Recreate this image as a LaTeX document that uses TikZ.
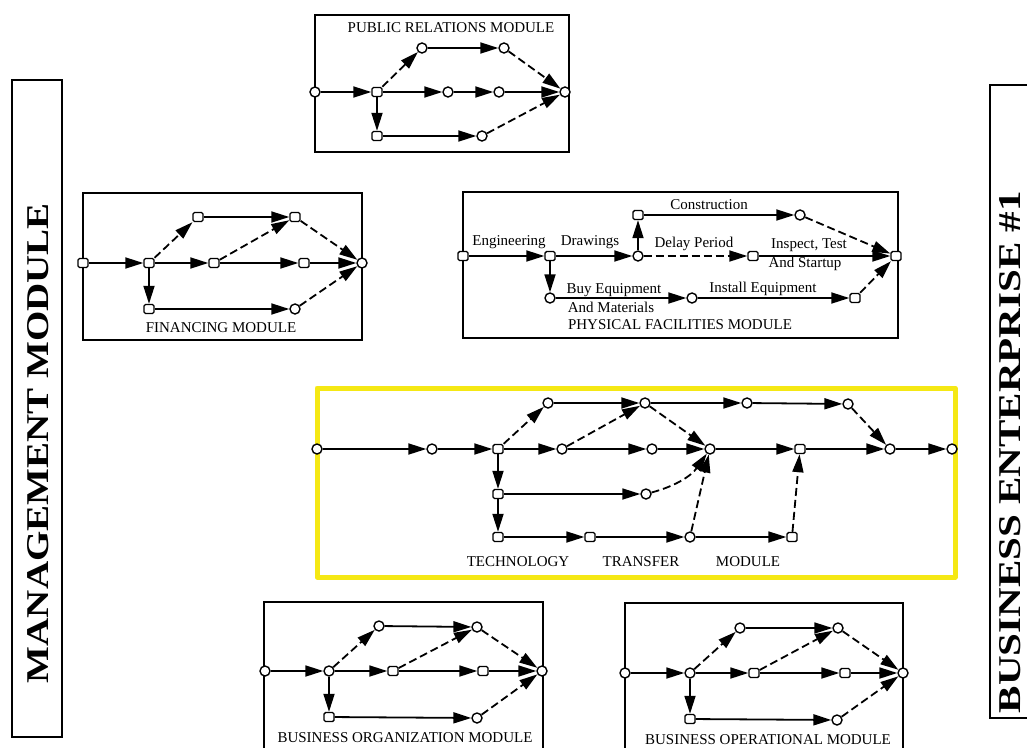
\documentclass[tikz,border=0pt]{standalone}
\usepackage{fontspec}
\setmainfont{Liberation Serif}
\usetikzlibrary{arrows.meta}
\tikzset{
 cn/.style={circle,draw,fill=white,line width=1.4pt,inner sep=0pt,minimum size=10pt},
 sn/.style={rectangle,rounded corners=1.5pt,draw,fill=white,line width=1.4pt,inner sep=0pt,minimum width=10pt,minimum height=9pt},
 modbox/.style={draw,line width=1.9pt},
 act/.style={line width=1.8pt,-{Triangle[length=18pt,width=11pt]}},
 dact/.style={act,dash pattern=on 8pt off 4pt},
 lab/.style={font=\fontsize{15}{16}\selectfont,inner sep=0pt},
}
\begin{document}
\begin{tikzpicture}[x=1pt,y=-1pt]
\useasboundingbox (0,0) rectangle (1027,747);
\clip (0,0) rectangle (1027,747);

% ---- side boxes
\draw[modbox] (12,80) rectangle (62,737);
\node[rotate=90,inner sep=0pt] (mgmt) at (38,443) {\resizebox{480pt}{21pt}{\bfseries MANAGEMENT MODULE}};
\draw[modbox] (990,85) rectangle (1040,718);
\node[rotate=90,inner sep=0pt] (bent) at (1010,452) {\resizebox{522pt}{21pt}{\bfseries BUSINESS ENTERPRISE \#1}};

% ---- yellow highlight
\draw[line width=5pt,color={rgb,255:red,245;green,232;blue,20},line join=round] (317,388) rectangle (955,577);

% ---- boxes
\draw[modbox] (315,15) rectangle (569,152);
\draw[modbox] (83,193) rectangle (362,340);
\draw[modbox] (463,192) rectangle (898,338);
\draw[modbox] (264,602) rectangle (543,760);
\draw[modbox] (625,603) rectangle (903,760);

% ---- titles
\node[lab] (prt) at (451,28) {PUBLIC RELATIONS MODULE};
\node[lab] (fit) at (221,328) {FINANCING MODULE};
\node[lab] (pft) at (680,325) {PHYSICAL FACILITIES MODULE};
\node[lab] (tt1) at (518,562) {TECHNOLOGY};
\node[lab] (tt2) at (641,562) {TRANSFER};
\node[lab] (tt3) at (748,562) {MODULE};
\node[lab] (bot) at (405,738) {BUSINESS ORGANIZATION MODULE};
\node[lab] (bpt) at (768,740) {BUSINESS OPERATIONAL MODULE};

% ---- public relations module
\node[cn] (ra) at (315,92) {};
\node[sn] (rb) at (377,92) {};
\node[cn] (rc) at (422,48) {};
\node[cn] (rd) at (504,48) {};
\node[cn] (re) at (448,92) {};
\node[cn] (rf) at (499,92) {};
\node[cn] (rg) at (565,92) {};
\node[sn] (rh) at (377,136) {};
\node[cn] (ri) at (482,136) {};
\draw[act] (ra) -- (rb);
\draw[dact] (rb) -- (rc);
\draw[act] (rc) -- (rd);
\draw[dact] (rd) -- (rg);
\draw[act] (rb) -- (re);
\draw[act] (re) -- (rf);
\draw[act] (rf) -- (rg);
\draw[act] (rb) -- (rh);
\draw[act] (rh) -- (ri);
\draw[dact] (ri) -- (rg);

% ---- financing module
\node[sn] (fa) at (83,263) {};
\node[sn] (fb) at (149,263) {};
\node[sn] (fc) at (198,217) {};
\node[sn] (fd) at (295,217) {};
\node[sn] (fe) at (214,263) {};
\node[sn] (ff) at (304,263) {};
\node[cn] (fg) at (362,263) {};
\node[sn] (fh) at (149,309) {};
\node[cn] (fi) at (295,309) {};
\draw[act] (fa) -- (fb);
\draw[dact] (fb) -- (fc);
\draw[act] (fc) -- (fd);
\draw[dact] (fe) -- (fd);
\draw[dact] (fd) -- (fg);
\draw[act] (fb) -- (fe);
\draw[act] (fe) -- (ff);
\draw[act] (ff) -- (fg);
\draw[act] (fb) -- (fh);
\draw[act] (fh) -- (fi);
\draw[dact] (fi) -- (fg);

% ---- physical facilities module
\node[sn] (p1) at (463,256) {};
\node[sn] (p2) at (550,256) {};
\node[cn] (p3) at (638,256) {};
\node[sn] (p4) at (638,215) {};
\node[cn] (p5) at (800,215) {};
\node[sn] (p6) at (753,256) {};
\node[sn] (p7) at (896,256) {};
\node[cn] (p8) at (550,298) {};
\node[cn] (p9) at (692,298) {};
\node[sn] (p10) at (855,298) {};
\draw[act] (p1) -- (p2);
\draw[act] (p2) -- (p3);
\draw[act] (p3) -- (p4);
\draw[act] (p4) -- (p5);
\draw[dact] (p5) -- (p7);
\draw[dact] (p3) -- (p6);
\draw[act] (p6) -- (p7);
\draw[act] (p2) -- (p8);
\draw[act] (p8) -- (p9);
\draw[act] (p9) -- (p10);
\draw[dact] (p10) -- (p7);
\node[lab] (l1) at (509,242) {Engineering};
\node[lab] (l2) at (590,242) {Drawings};
\node[lab] (l3) at (709,205) {Construction};
\node[lab] (l4) at (694,244) {Delay Period};
\node[lab] (l5) at (809,245) {Inspect, Test};
\node[lab] (l6) at (805,264) {And Startup};
\node[lab] (l7) at (614,290) {Buy Equipment};
\node[lab] (l8) at (611,307) {And Materials};
\node[lab] (l9) at (763,289) {Install Equipment};

% ---- technology transfer module
\node[cn] (t1) at (317,449) {};
\node[cn] (t2) at (432,449) {};
\node[sn] (t3) at (498,449) {};
\node[cn] (t4) at (548,403) {};
\node[cn] (t5) at (562,449) {};
\node[cn] (t6) at (645,403) {};
\node[cn] (t7) at (652,449) {};
\node[cn] (t8) at (710,449) {};
\node[sn] (t9) at (498,494) {};
\node[cn] (t10) at (646,494) {};
\node[sn] (t11) at (498,537) {};
\node[sn] (t12) at (590,537) {};
\node[cn] (t13) at (690,537) {};
\node[sn] (t14) at (792,537) {};
\node[cn] (t15) at (747,403) {};
\node[cn] (t16) at (848,404) {};
\node[sn] (t17) at (800,449) {};
\node[cn] (t18) at (890,449) {};
\node[cn] (t19) at (952,449) {};
\draw[act] (t1) -- (t2);
\draw[act] (t2) -- (t3);
\draw[dact] (t3) -- (t4);
\draw[act] (t4) -- (t6);
\draw[act] (t3) -- (t5);
\draw[dact] (t5) -- (t6);
\draw[act] (t5) -- (t7);
\draw[dact] (t6) -- (t8);
\draw[act] (t7) -- (t8);
\draw[act] (t3) -- (t9);
\draw[act] (t9) -- (t10);
\draw[dact] (t10) to[bend right=20] (t8);
\draw[act] (t9) -- (t11);
\draw[act] (t11) -- (t12);
\draw[act] (t12) -- (t13);
\draw[dact] (t13) -- (t8);
\draw[act] (t13) -- (t14);
\draw[dact] (t14) -- (t17);
\draw[act] (t6) -- (t15);
\draw[act] (t15) -- (t16);
\draw[dact] (t16) -- (t18);
\draw[act] (t8) -- (t17);
\draw[act] (t17) -- (t18);
\draw[act] (t18) -- (t19);

% ---- business organization module
\node[cn] (oa) at (265,671) {};
\node[cn] (ob) at (329,671) {};
\node[cn] (oc) at (379,626) {};
\node[cn] (od) at (477,627) {};
\node[sn] (oe) at (393,671) {};
\node[sn] (of) at (483,671) {};
\node[cn] (og) at (542,671) {};
\node[sn] (oh) at (329,717) {};
\node[cn] (oi) at (477,718) {};
\draw[act] (oa) -- (ob);
\draw[dact] (ob) -- (oc);
\draw[act] (oc) -- (od);
\draw[dact] (oe) -- (od);
\draw[dact] (od) -- (og);
\draw[act] (ob) -- (oe);
\draw[act] (oe) -- (of);
\draw[act] (of) -- (og);
\draw[act] (ob) -- (oh);
\draw[act] (oh) -- (oi);
\draw[dact] (oi) -- (og);

% ---- business operational module
\node[cn] (ua) at (625,673) {};
\node[cn] (ub) at (690,673) {};
\node[cn] (uc) at (740,628) {};
\node[cn] (ud) at (838,628) {};
\node[sn] (ue) at (754,673) {};
\node[sn] (uf) at (845,673) {};
\node[cn] (ug) at (903,673) {};
\node[sn] (uh) at (690,719) {};
\node[cn] (ui) at (837,720) {};
\draw[act] (ua) -- (ub);
\draw[dact] (ub) -- (uc);
\draw[act] (uc) -- (ud);
\draw[dact] (ue) -- (ud);
\draw[dact] (ud) -- (ug);
\draw[act] (ub) -- (ue);
\draw[act] (ue) -- (uf);
\draw[act] (uf) -- (ug);
\draw[act] (ub) -- (uh);
\draw[act] (uh) -- (ui);
\draw[dact] (ui) -- (ug);
\end{tikzpicture}
\end{document}
